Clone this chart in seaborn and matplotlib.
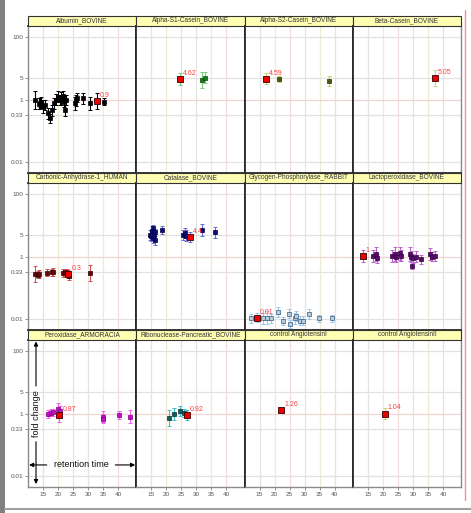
import numpy as np
import pandas as pd
import matplotlib
matplotlib.use("Agg")
import matplotlib.pyplot as plt
import seaborn as sns
from matplotlib.patches import Rectangle
from matplotlib.lines import Line2D
from matplotlib.ticker import NullLocator

sns.set_style("white")
plt.rcParams['font.family'] = ['Liberation Sans', 'DejaVu Sans']

# panel order (facets)
panels = ['Albumin_BOVINE', 'Alpha-S1-Casein_BOVINE', 'Alpha-S2-Casein_BOVINE', 'Beta-Casein_BOVINE',
          'Carbonic-Anhydrase-1_HUMAN', 'Catalase_BOVINE', 'Glycogen-Phosphorylase_RABBIT', 'Lactoperoxidase_BOVINE',
          'Peroxidase_ARMORACIA', 'Ribonuclease-Pancreatic_BOVINE', 'control AngiotensinI', 'control AngiotensinII']

# retention time, fold change, error factor (multiplicative) per peptide
albumin_rt = [12.4, 13.6, 13.9, 14.4, 15.0, 15.8, 16.7, 17.2, 18.0, 18.7, 19.4, 20.0, 20.6, 20.9, 21.7, 22.0, 22.2, 22.8,
              25.6, 26.1, 26.3, 28.3, 30.6, 35.3]
albumin_fc = [0.96, 0.72, 0.80, 0.79, 0.59, 0.67, 0.36, 0.25, 0.46, 0.75, 1.0, 1.23, 0.96, 1.09, 1.29, 0.85, 0.46, 0.96,
              0.75, 0.96, 1.15, 1.09, 0.75, 0.85]
albumin_err = [1.9, 1.5, 1.4, 1.5, 1.6, 1.4, 1.5, 1.4, 1.5, 1.5, 1.5, 1.5, 1.4, 1.6, 1.5, 1.5, 1.5, 1.4,
               1.6, 1.5, 1.4, 1.5, 1.6, 1.3]
albumin_hl = (32.8, 0.9, 1.8, '0.9')

as1_rt = [31.9, 33.0]
as1_fc = [4.3, 5.0]
as1_err = [1.8, 1.5]
as1_hl = (24.4, 4.62, 1.55, '4.62')

as2_rt = [21.4, 38.2]
as2_fc = [4.6, 3.9]
as2_err = [1.25, 1.4]
as2_hl = (17.2, 4.59, 1.5, '4.59')

bcas_rt = []
bcas_fc = []
bcas_err = []
bcas_hl = (37.3, 4.76, 1.8, '5.05')

car_rt = [12.3, 13.2, 13.8, 16.2, 17.9, 18.2, 21.6, 22.3, 22.9, 23.6, 30.7]
car_fc = [0.275, 0.26, 0.28, 0.30, 0.31, 0.32, 0.29, 0.31, 0.30, 0.24, 0.29]
car_err = [1.8, 1.3, 1.35, 1.3, 1.3, 1.3, 1.35, 1.3, 1.3, 1.35, 1.8]
car_hl = (23.4, 0.27, 1.35, '0.3')

cat_rt = [14.6, 15.0, 15.2, 15.3, 15.5, 15.7, 15.9, 16.1, 16.3, 18.7, 25.6, 26.1, 26.5, 32.0, 36.1]
cat_fc = [4.8, 4.5, 5.4, 6.5, 8.0, 4.0, 5.0, 3.5, 6.0, 7.0, 5.0, 5.6, 4.6, 7.0, 5.9]
cat_err = [1.45, 1.45, 1.4, 1.45, 1.3, 1.45, 1.4, 1.45, 1.3, 1.35, 1.45, 1.45, 1.5, 1.6, 1.5]
cat_hl = (27.8, 4.3, 1.45, '4.4')

gly_rt = [12.2, 16.1, 17.6, 18.7, 21.1, 22.8, 24.7, 25.0, 26.7, 27.2, 28.3, 29.4, 31.4, 34.7, 39.1]
gly_fc = [0.0105, 0.0105, 0.011, 0.0105, 0.017, 0.0089, 0.015, 0.0068, 0.0105, 0.0125, 0.0089, 0.0087, 0.0145,
          0.0105, 0.0105]
gly_err = [1.4, 1.5, 1.6, 1.4, 1.45, 1.35, 1.4, 1.35, 1.5, 1.45, 1.4, 1.4, 1.4, 1.3, 1.3]
gly_hl = (14.2, 0.011, 1.4, '0.01')

lac_rt = [16.7, 17.6, 18.0, 23.1, 23.9, 24.4, 25.6, 26.1, 28.9, 29.4, 29.8, 30.2, 31.1, 32.8, 35.8, 36.4, 37.2]
lac_fc = [1.04, 1.2, 0.87, 1.04, 1.2, 0.94, 1.26, 1.04, 1.2, 1.0, 0.5, 0.87, 1.0, 0.81, 1.2, 1.0, 1.04]
lac_err = [1.6, 1.65, 1.4, 1.6, 1.65, 1.45, 1.6, 1.5, 1.65, 1.45, 1.3, 1.4, 1.45, 1.4, 1.6, 1.4, 1.45]
lac_hl = (13.3, 1.04, 1.6, '1')

per_rt = [16.8, 17.6, 18.2, 20.1, 20.7, 34.8, 35.1, 40.4, 44.0]
per_fc = [0.95, 1.07, 1.11, 1.37, 1.2, 0.80, 0.69, 0.88, 0.80]
per_err = [1.35, 1.3, 1.3, 1.55, 1.45, 1.45, 1.4, 1.35, 1.6]
per_hl = (20.4, 0.88, 1.65, '0.87')

rib_rt = [20.8, 22.7, 24.7, 25.8]
rib_fc = [0.74, 0.95, 1.2, 1.07]
rib_err = [1.8, 1.55, 1.45, 1.35]
rib_hl = (26.9, 0.92, 1.45, '0.92')

ang1_rt, ang1_fc, ang1_err = [], [], []
ang1_hl = (22.3, 1.28, 1.25, '1.26')

ang2_rt, ang2_fc, ang2_err = [], [], []
ang2_hl = (20.6, 1.0, 1.5, '1.04')

series = [(albumin_rt, albumin_fc, albumin_err, albumin_hl), (as1_rt, as1_fc, as1_err, as1_hl),
          (as2_rt, as2_fc, as2_err, as2_hl), (bcas_rt, bcas_fc, bcas_err, bcas_hl),
          (car_rt, car_fc, car_err, car_hl), (cat_rt, cat_fc, cat_err, cat_hl),
          (gly_rt, gly_fc, gly_err, gly_hl), (lac_rt, lac_fc, lac_err, lac_hl),
          (per_rt, per_fc, per_err, per_hl), (rib_rt, rib_fc, rib_err, rib_hl),
          (ang1_rt, ang1_fc, ang1_err, ang1_hl), (ang2_rt, ang2_fc, ang2_err, ang2_hl)]

yticks = [0.01, 0.33, 1, 5, 100]
ytick_labels = ['0.01', '0.33', '1', '5', '100']
xticks = [15, 20, 25, 30, 35, 40]

# marker face, marker edge, errorbar colour
styles = {
    'Albumin_BOVINE': ('#000000', '#000000', '#000000'),
    'Alpha-S1-Casein_BOVINE': ('#1a7a1a', '#0a4a0a', '#7ad07a'),
    'Alpha-S2-Casein_BOVINE': ('#4a5a10', '#2a3000', '#c8d060'),
    'Beta-Casein_BOVINE': ('#000000', '#000000', '#c0e070'),
    'Carbonic-Anhydrase-1_HUMAN': ('#6a0808', '#300000', '#d05050'),
    'Catalase_BOVINE': ('#0a0a78', '#000040', '#6a6ad0'),
    'Glycogen-Phosphorylase_RABBIT': ('#b8cce0', '#3a5a7a', '#98c8f0'),
    'Lactoperoxidase_BOVINE': ('#5a0a6a', '#300040', '#c060d0'),
    'Peroxidase_ARMORACIA': ('#c010c8', '#800080', '#f060f0'),
    'Ribonuclease-Pancreatic_BOVINE': ('#106060', '#003030', '#40c0c8'),
    'control AngiotensinI': ('#000000', '#000000', '#c8c8c8'),
    'control AngiotensinII': ('#000000', '#000000', '#d0d070'),
}

rows = []
for name, (rt, fc, err, hl) in zip(panels, series):
    for x, y, e in zip(rt, fc, err):
        rows.append(dict(protein=name, rt=x, fc=y, err=e, hl=False, label=''))
    rows.append(dict(protein=name, rt=hl[0], fc=hl[1], err=hl[2], hl=True, label=hl[3]))
df = pd.DataFrame(rows)


def draw_panel(data, **kws):
    ax = plt.gca()
    name = data['protein'].iloc[0]
    face, edge, ecol = styles[name]
    for i, xv in enumerate(xticks):
        ax.axvline(xv, color=['#e4e4e4', '#efebcf', '#f2dcdc'][i % 3], lw=0.9, zorder=0)
    for yv in yticks:
        ax.axhline(yv, color='#f0d4d4' if yv == 1 else '#e2e2e2', lw=0.9, zorder=0)
    fc = data['fc'].values
    err = data['err'].values
    ax.errorbar(data['rt'], fc, yerr=[fc - fc / err, fc * err - fc], fmt='none', ecolor=ecol,
                elinewidth=0.8, capsize=1.6, capthick=0.7, zorder=2)
    normal = data[~data['hl']]
    if len(normal):
        sns.scatterplot(data=normal, x='rt', y='fc', marker='s', s=12, color=face, edgecolor=edge,
                        linewidth=0.5, ax=ax, legend=False, zorder=3)
    hl = data[data['hl']]
    sns.scatterplot(data=hl, x='rt', y='fc', marker='s', s=15, color='#ee0000', edgecolor='#3a0000',
                    linewidth=0.6, ax=ax, legend=False, zorder=4)
    for _, r in hl.iterrows():
        ax.annotate(r['label'], (r['rt'], r['fc']), xytext=(2.2, 1.5), textcoords='offset points',
                    color='#ff4040', fontsize=5, ha='left', va='bottom', zorder=5)


g = sns.FacetGrid(df, col='protein', col_wrap=4, col_order=panels, sharex=True, sharey=True,
                  height=1.47, aspect=108 / 147, despine=False)
g.map_dataframe(draw_panel)
g.set(yscale='log', xlim=(10, 46), ylim=(0.00445, 225))
g.set_titles('')
g.set_axis_labels('', '')

fig = g.figure
fig.set_size_inches(4.71, 5.13)
fig.subplots_adjust(left=28 / 471, right=461 / 471, top=1 - 26 / 513, bottom=1 - 487 / 513,
                    wspace=0, hspace=10 / 147)

axes = g.axes.flatten()
for k, ax in enumerate(axes):
    ax.set_yticks(yticks)
    ax.set_yticklabels(ytick_labels)
    ax.yaxis.set_minor_locator(NullLocator())
    ax.set_xticks(xticks)
    ax.tick_params(axis='both', labelsize=4.6, labelcolor='#555555', length=2, width=0.5,
                   color='#666666', pad=1.5)
    col = k % 4
    ax.tick_params(axis='y', left=(col == 0), labelleft=(col == 0))
    ax.tick_params(axis='x', bottom=(k >= 8), labelbottom=(k >= 8))
    for side, sp in ax.spines.items():
        sp.set_color('#2a2a2a')
        sp.set_linewidth(1.3)
    if col == 0:
        ax.spines['left'].set_color('#8a8a8a')
        ax.spines['left'].set_linewidth(1.0)
    if col == 3:
        ax.spines['right'].set_color('#8a8a8a')
        ax.spines['right'].set_linewidth(1.0)
    if k >= 8:
        ax.spines['bottom'].set_color('#8a8a8a')
        ax.spines['bottom'].set_linewidth(1.0)
    # yellow strip
    ax.add_patch(Rectangle((0, 1), 1, 10 / 147, transform=ax.transAxes, facecolor='#ffffb4',
                           edgecolor='#333333', lw=0.8, clip_on=False, zorder=6))
    ax.text(0.5, 1 + 5 / 147, panels[k], transform=ax.transAxes, ha='center', va='center',
            fontsize=4.7, color='#333333', zorder=7)

# axis explanation in the bottom-left panel
ax = axes[8]
arr = dict(arrowstyle='-|>', color='black', lw=0.8, mutation_scale=6, shrinkA=0, shrinkB=0)
ax.annotate('', xy=(0.074, 0.99), xytext=(0.074, 0.687), xycoords='axes fraction', arrowprops=arr, zorder=8)
ax.annotate('', xy=(0.074, 0.02), xytext=(0.074, 0.308), xycoords='axes fraction', arrowprops=arr, zorder=8)
ax.text(0.074, 0.5, 'fold change', transform=ax.transAxes, rotation=90, ha='center', va='center',
        fontsize=6.5, color='#111111', zorder=8)
ax.annotate('', xy=(0.01, 0.15), xytext=(0.173, 0.15), xycoords='axes fraction', arrowprops=arr, zorder=8)
ax.annotate('', xy=(0.99, 0.15), xytext=(0.806, 0.15), xycoords='axes fraction', arrowprops=arr, zorder=8)
ax.text(0.495, 0.15, 'retention time', transform=ax.transAxes, ha='center', va='center',
        fontsize=6.5, color='#111111', zorder=8)

# page decorations
fig.add_artist(Rectangle((0, 0), 5 / 471, 1, transform=fig.transFigure, facecolor='#808080', edgecolor='none'))
fig.add_artist(Line2D([5 / 471, 1], [1 - 509 / 513] * 2, transform=fig.transFigure, color='#a0a0a0', lw=1.5))
fig.add_artist(Line2D([465 / 471] * 2, [1 - 10 / 513, 1 - 500 / 513], transform=fig.transFigure,
                      color='#ff8a8a', lw=1.0))

fig.savefig('out.png', dpi=100)
